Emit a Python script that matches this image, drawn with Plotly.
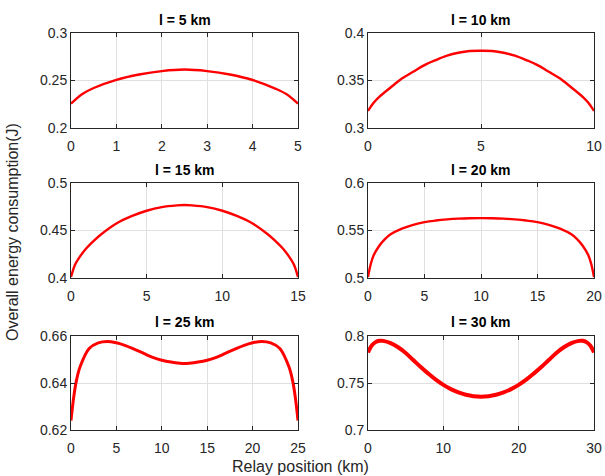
import plotly.graph_objects as go
from plotly.subplots import make_subplots

# relay position (km) and overall energy (J), l = 5..30 km
x_l5 = [0, 0.25, 0.5, 1, 1.5, 2, 2.5, 3, 3.5, 4, 4.5, 4.75, 5]
y_l5 = [0.2256, 0.2358, 0.2421, 0.2507, 0.2563, 0.2599, 0.2615, 0.2599, 0.2563, 0.2505, 0.2415, 0.2355, 0.2256]

x_l10 = [0, 0.25, 0.5, 1, 1.5, 2, 2.5, 3, 3.5, 4, 4.5, 5,
         5.5, 6, 6.5, 7, 7.5, 8, 8.5, 9, 9.5, 9.75, 10]
y_l10 = [0.318, 0.3265, 0.3327, 0.3426, 0.352, 0.3592, 0.3662, 0.3715, 0.3761, 0.3792, 0.381, 0.3813,
         0.381, 0.3792, 0.3761, 0.3715, 0.3662, 0.3592, 0.352, 0.3426, 0.3327, 0.3265, 0.318]

x_l15 = [0, 0.25, 0.5, 1, 1.5, 2, 3, 4, 5, 6, 7, 7.5, 8, 9, 10, 11, 12, 13, 13.5, 14, 14.5, 14.75, 15]
y_l15 = [0.401, 0.4134, 0.4204, 0.431, 0.4391, 0.4461, 0.4574, 0.4651, 0.4708, 0.4746, 0.4764, 0.4768,
         0.4764, 0.4746, 0.4708, 0.4651, 0.4574, 0.4461, 0.4391, 0.431, 0.4204, 0.4134, 0.401]

x_l20 = [0, 0.25, 0.5, 1, 1.5, 2, 3, 4, 5, 6, 7, 8, 9, 10,
         11, 12, 13, 14, 15, 16, 17, 18, 18.5, 19, 19.5, 19.75, 20]
y_l20 = [0.501, 0.515, 0.524, 0.534, 0.541, 0.546, 0.552, 0.556, 0.5588, 0.5605, 0.5617, 0.5625, 0.5629, 0.563,
         0.5629, 0.5625, 0.5617, 0.5605, 0.5588, 0.556, 0.552, 0.546, 0.541, 0.534, 0.524, 0.515, 0.501]

x_l25 = [0, 0.3, 0.6, 1, 2, 3, 4, 5, 6, 7, 8, 9, 10, 11, 12, 12.5,
         13, 14, 15, 16, 17, 18, 19, 20, 21, 22, 23, 24, 24.4, 24.7, 25]
y_l25 = [0.624, 0.634, 0.6411, 0.6469, 0.6547, 0.6571, 0.6577, 0.6571, 0.6559, 0.6543, 0.6526, 0.6509, 0.6497,
         0.6489, 0.6484, 0.6483,
         0.6484, 0.6489, 0.6497, 0.6509, 0.6526, 0.6543, 0.6559, 0.6571, 0.6577, 0.6571, 0.6547, 0.6469, 0.6411,
         0.634, 0.624]

x_l30 = [0, 0.5, 1, 1.5, 2, 3, 4, 5, 6, 7, 8, 9, 10, 11, 12, 13, 14, 15,
         16, 17, 18, 19, 20, 21, 22, 23, 24, 25, 26, 27, 28, 28.5, 29, 29.5, 30]
y_l30 = [0.7825, 0.790, 0.7935, 0.795, 0.7948, 0.7925, 0.788, 0.782, 0.7745, 0.767, 0.760, 0.7535, 0.748, 0.7435,
         0.740, 0.7375, 0.736, 0.7355,
         0.736, 0.7375, 0.740, 0.7435, 0.748, 0.7535, 0.760, 0.767, 0.7745, 0.782, 0.788, 0.7925, 0.7948, 0.795,
         0.7935, 0.790, 0.7825]

panels = [
    ('l = 5 km', x_l5, y_l5, [0, 5], 1, [0.2, 0.3], 0.05, 2.4),
    ('l = 10 km', x_l10, y_l10, [0, 10], 5, [0.3, 0.4], 0.05, 2.4),
    ('l = 15 km', x_l15, y_l15, [0, 15], 5, [0.4, 0.5], 0.05, 2.4),
    ('l = 20 km', x_l20, y_l20, [0, 20], 5, [0.5, 0.6], 0.05, 2.4),
    ('l = 25 km', x_l25, y_l25, [0, 25], 5, [0.62, 0.66], 0.02, 3),
    ('l = 30 km', x_l30, y_l30, [0, 30], 10, [0.7, 0.8], 0.05, 4),
]

W, H = 605, 476
xdom = [(71, 298), (368, 594)]
ydom = [(33, 128), (183, 278), (336, 430)]
title_y = [20, 170, 322]

fig = make_subplots(rows=3, cols=2)
font = 'Liberation Sans, Arial, sans-serif'
axcol = '#262626'

for i, (title, xs, ys, xr, dx, yr, dy, lw) in enumerate(panels):
    r, c = i // 2 + 1, i % 2 + 1
    fig.add_trace(go.Scatter(x=xs, y=ys, mode='lines', line=dict(color='#ff0000', width=lw, shape='spline'),
                             showlegend=False), row=r, col=c)
    x0, x1 = xdom[c - 1]
    y0, y1 = ydom[r - 1]
    fig.update_xaxes(range=xr, dtick=dx, tick0=0, domain=[x0 / W, x1 / W], row=r, col=c)
    fig.update_yaxes(range=yr, dtick=dy, tick0=yr[0], domain=[1 - y1 / H, 1 - y0 / H], row=r, col=c)
    fig.add_annotation(text='<b>%s</b>' % title, x=(x0 + x1) / 2 / W, y=1 - title_y[r - 1] / H,
                       xref='paper', yref='paper', showarrow=False, xanchor='center', yanchor='middle',
                       font=dict(size=14, color='black', family=font))

fig.update_xaxes(showline=True, linecolor=axcol, linewidth=1, mirror='ticks', ticks='inside', ticklen=4,
                 tickcolor=axcol, showgrid=True, gridcolor='#e0e0e0', zeroline=False, ticklabelstandoff=5,
                 tickfont=dict(size=14, color=axcol, family=font))
fig.update_yaxes(showline=True, linecolor=axcol, linewidth=1, mirror='ticks', ticks='inside', ticklen=4,
                 tickcolor=axcol, showgrid=True, gridcolor='#e0e0e0', zeroline=False,
                 tickfont=dict(size=14, color=axcol, family=font))

fig.add_annotation(text='Overall energy consumption(J)', x=12 / W, y=1 - 232 / H, xref='paper', yref='paper',
                   showarrow=False, textangle=-90, xanchor='center', yanchor='middle',
                   font=dict(size=16, color=axcol, family=font))
fig.add_annotation(text='Relay position (km)', x=300 / W, y=1 - 466 / H, xref='paper', yref='paper',
                   showarrow=False, xanchor='center', yanchor='middle',
                   font=dict(size=16, color=axcol, family=font))

fig.update_layout(width=W, height=H, margin=dict(l=0, r=0, t=0, b=0, autoexpand=False), plot_bgcolor='white',
                  paper_bgcolor='white', font=dict(family=font))

fig.write_html('out.html', config={'displayModeBar': False},
               post_script="document.body.style.margin='0';document.body.style.overflow='hidden';")
